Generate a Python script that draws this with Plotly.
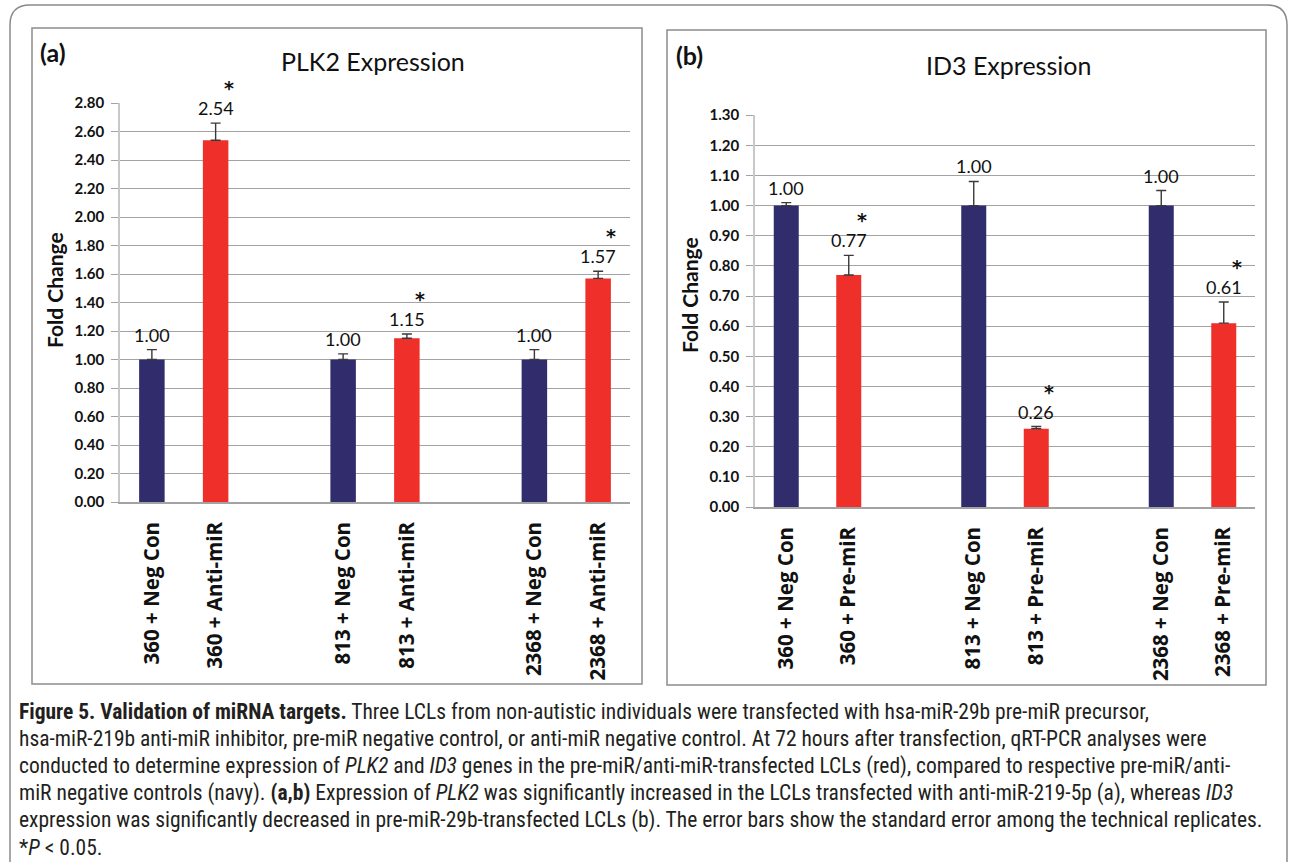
import plotly.graph_objects as go

# ---------------- data ----------------
groups = ["360", "813", "2368"]
plk2_neg = [1.00, 1.00, 1.00]
plk2_trt = [2.54, 1.15, 1.57]
plk2_neg_err = [0.07, 0.04, 0.07]
plk2_trt_err = [0.12, 0.03, 0.05]
plk2_ticks = ["360 + Neg Con", "360 + Anti-miR", "813 + Neg Con", "813 + Anti-miR",
              "2368 + Neg Con", "2368 + Anti-miR"]

id3_neg = [1.00, 1.00, 1.00]
id3_trt = [0.77, 0.26, 0.61]
id3_neg_err = [0.01, 0.08, 0.05]
id3_trt_err = [0.065, 0.007, 0.07]
id3_ticks = ["360 + Neg Con", "360 + Pre-miR", "813 + Neg Con", "813 + Pre-miR",
             "2368 + Neg Con", "2368 + Pre-miR"]

caption_lines = [
    "<b>Figure 5. Validation of miRNA targets.</b> Three LCLs from non-autistic individuals were transfected with hsa-miR-29b pre-miR precursor,",
    "hsa-miR-219b anti-miR inhibitor, pre-miR negative control, or anti-miR negative control. At 72 hours after transfection, qRT-PCR analyses were",
    "conducted to determine expression of <i>PLK2</i> and <i>ID3</i> genes in the pre-miR/anti-miR-transfected LCLs (red), compared to respective pre-miR/anti-",
    "miR negative controls (navy). <b>(a,b)</b> Expression of <i>PLK2</i> was significantly increased in the LCLs transfected with anti-miR-219-5p (a), whereas <i>ID3</i>",
    "expression was significantly decreased in pre-miR-29b-transfected LCLs (b). The error bars show the standard error among the technical replicates.",
    "*<i>P</i> &lt; 0.05.",
]

# ---------------- styling ----------------
W, H = 1290, 862
NAVY = "#312C6C"
RED = "#EE2F2A"
GRID = "#a3a3a3"
TXT = "#111111"
FONT = "Lato, Open Sans, sans-serif"


def px(x):
    return x / W


def py(y):
    return 1 - y / H


x_neg = [3 * i for i in range(len(groups))]
x_trt = [3 * i + 1 for i in range(len(groups))]
tickvals = sorted(x_neg + x_trt)

fig = go.Figure()

panels = [
    dict(xa="x", ya="y", neg=plk2_neg, trt=plk2_trt, ne=plk2_neg_err, te=plk2_trt_err,
         ticks=plk2_ticks, ymax=2.8, dtick=0.2,
         xdom=[px(120), px(630)], ydom=[py(502), py(103)]),
    dict(xa="x2", ya="y2", neg=id3_neg, trt=id3_trt, ne=id3_neg_err, te=id3_trt_err,
         ticks=id3_ticks, ymax=1.3, dtick=0.1,
         xdom=[px(755), px(1255)], ydom=[py(507), py(115)]),
]

annotations = []
for k, p in enumerate(panels):
    for xs, vals, errs, col in [(x_neg, p["neg"], p["ne"], NAVY), (x_trt, p["trt"], p["te"], RED)]:
        fig.add_trace(go.Bar(
            x=xs, y=vals, width=0.4, marker=dict(color=col, line=dict(width=0)),
            error_y=dict(type="data", array=errs, arrayminus=[0] * len(errs), symmetric=False,
                         color="#3a3a3a", thickness=1.4, width=5),
            xaxis=p["xa"], yaxis=p["ya"], showlegend=False, hoverinfo="skip"))
        for xv, v, e in zip(xs, vals, errs):
            annotations.append(dict(x=xv, y=v + e, xref=p["xa"], yref=p["ya"], text=f"{v:.2f}",
                                    showarrow=False, yanchor="middle", yshift=15, borderpad=0,
                                    font=dict(family=FONT, size=18, color=TXT)))
            if col == RED:
                annotations.append(dict(x=xv, y=v + e, xref=p["xa"], yref=p["ya"], text="<b>*</b>",
                                        showarrow=False, yanchor="bottom", yshift=23, xshift=13,
                                        borderpad=0,
                                        font=dict(family="DejaVu Sans, sans-serif", size=19, color=TXT)))
    axn = "" if k == 0 else "2"
    fig.update_layout(**{
        "xaxis" + axn: dict(domain=p["xdom"], range=[-0.5, 7.5], tickmode="array", tickvals=tickvals,
                            ticktext=p["ticks"], tickangle=-90, showgrid=False, zeroline=False,
                            showline=True, linecolor=GRID, linewidth=1.5, ticks="",
                            ticklabelstandoff=10, automargin=False,
                            tickfont=dict(family="Open Sans, sans-serif", size=20.5, color=TXT, weight="bold"),
                            anchor="y" + axn, fixedrange=True),
        "yaxis" + axn: dict(domain=p["ydom"], range=[0, p["ymax"] * 1.0005], dtick=p["dtick"], tick0=0,
                            tickformat=".2f", showgrid=True, gridcolor=GRID, gridwidth=1.3,
                            zeroline=False, showline=True, linecolor="#c8c8c8", linewidth=1.5,
                            ticks="outside", ticklen=7, tickcolor=GRID, tickwidth=1.3,
                            ticklabelstandoff=4, automargin=False,
                            tickfont=dict(family=FONT, size=15, color=TXT, weight="bold"),
                            anchor="x" + axn, fixedrange=True),
    })

# panel titles, letters, y titles
for txt, x, y, size, bold in [("(a)", 53, 52, 25, True), ("PLK2 Expression", 373, 61, 25, False),
                              ("(b)", 689, 55, 25, True), ("ID3 Expression", 1008, 65, 25, False)]:
    annotations.append(dict(x=px(x), y=py(y), xref="paper", yref="paper", showarrow=False,
                            text=f"<b>{txt}</b>" if bold else txt,
                            font=dict(family=FONT, size=size, color=TXT),
                            xanchor="center", yanchor="middle"))
for x, y in [(55, 290), (690, 295)]:
    annotations.append(dict(x=px(x), y=py(y), xref="paper", yref="paper", showarrow=False,
                            text="<b>Fold Change</b>", textangle=-90,
                            font=dict(family=FONT, size=21, color=TXT),
                            xanchor="center", yanchor="middle"))

# caption
cap_y0, cap_dy = 711, 27.3
for i, line in enumerate(caption_lines):
    annotations.append(dict(x=px(18), y=py(cap_y0 + i * cap_dy), xref="paper", yref="paper",
                            showarrow=False, text=line, align="left", borderpad=0,
                            font=dict(family="Liberation Sans Narrow, Roboto Condensed, Roboto, sans-serif",
                                      size=21.5, color="#231f20"),
                            xanchor="left", yanchor="middle"))

shapes = [
    # outer rounded frame
    dict(type="path", xref="paper", yref="paper", line=dict(color="#8a8a8a", width=1.5),
         path=(f"M {px(10)},{py(900)} L {px(10)},{py(25)} Q {px(10)},{py(5)} {px(30)},{py(5)} "
               f"L {px(1267)},{py(5)} Q {px(1287)},{py(5)} {px(1287)},{py(25)} L {px(1287)},{py(900)}")),
    dict(type="rect", xref="paper", yref="paper", x0=px(32), x1=px(642), y0=py(684), y1=py(28),
         line=dict(color="#8c8c8c", width=1.5)),
    dict(type="rect", xref="paper", yref="paper", x0=px(667), x1=px(1266), y0=py(685), y1=py(30),
         line=dict(color="#8c8c8c", width=1.5)),
]

fig.update_layout(width=W, height=H, margin=dict(l=0, r=0, t=0, b=0, autoexpand=False),
                  paper_bgcolor="white", plot_bgcolor="white", barmode="overlay",
                  annotations=annotations, shapes=shapes, showlegend=False)

fig.write_html("out.html", config={"displayModeBar": False},
               post_script="document.body.style.margin='0';document.body.style.overflow='hidden';")
